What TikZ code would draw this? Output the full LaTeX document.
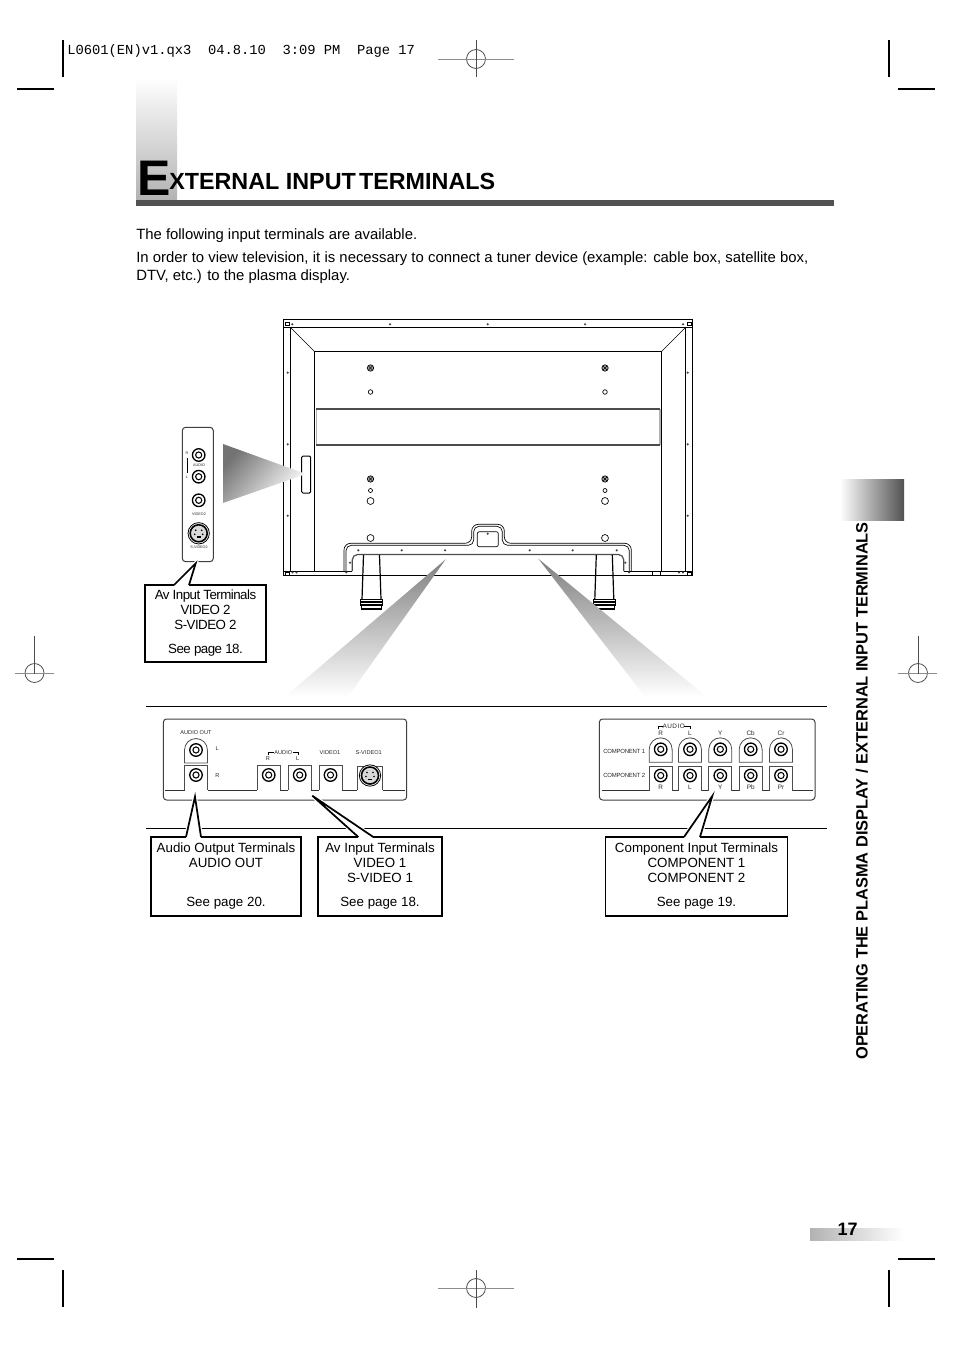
\documentclass[tikz,border=0pt]{standalone}
\usepackage{fontspec}
\setmainfont{Liberation Sans}
\setmonofont{Liberation Mono}
\newfontfamily\tightfont[LetterSpace=-4]{Liberation Sans}
\usetikzlibrary{calc}
\tikzset{
	crop/.style={black, line width=0.8pt},
	regmark/.style={black!70, line width=0.6pt},
	frame/.style={draw=black, line width=0.75pt},
	panel/.style={draw=black!75, line width=0.75pt, rounded corners=2.5pt},
	housing/.style={draw=black!70, line width=0.6pt},
	boxline/.style={draw=black, line width=1.3pt},
	termbox/.style={boxline, align=center, inner sep=0pt, font=\fontsize{10}{11.25}\selectfont},
	tinylabel/.style={inner sep=0pt, text=black!85, font=\fontsize{4.2}{5}\selectfont},
	sidelabel/.style={inner sep=0pt, text=black!85, font=\fontsize{2.8}{3.5}\selectfont},
	jack/.pic={
		\draw[line width=1pt, fill=white] (0,0) circle (4.7pt);
		\draw[line width=0.8pt] (0,0) circle (2.3pt);
	},
	svideo/.pic={
		\draw[line width=0.6pt, fill=white] (0,0) circle (8pt);
		\draw[line width=1.2pt, fill=black!15] (0,0) circle (6.4pt);
		\foreach \a/\b in {-3/-3, 3/-3, -4/1, 4/1} {\fill (\a,\b) circle (0.7pt);}
		\fill (-2,3) rectangle (2,4.5);
	},
	archjack/.pic={
		\draw[housing] (-11.5,13) -- (-11.5,0) arc[start angle=180, end angle=0, radius=8.6pt] -- (11.5,13) -- cycle;
		\pic at (0,0) {jack};
	},
	boxjack/.pic={
		\fill[white] (-11.5,-9.5) rectangle (11.5,17);
		\draw[housing] (-11.5,15) -- (-11.5,-9.5) -- (11.5,-9.5) -- (11.5,15);
		\pic at (0,0) {jack};
	}
}
% halo of a callout tail over the rules, then its visible edges
\newcommand{\tailback}[3]{
	\fill[white] (#1) -- (#2) -- (#3) -- cycle;
	\draw[white, line width=3pt] (#1) -- (#2) -- (#3);
}
\newcommand{\tailfront}[3]{
	\draw[white, line width=2pt] (#1) -- (#3);
	\draw[boxline] (#1) -- (#2) -- (#3);
}
\newcommand{\regcross}[5]{
	\draw[regmark] (#1,#2) circle (7.1pt);
	\draw[regmark, black!45] (#3,#2) -- (#4,#2);
	\draw[regmark] (#1,#5) -- (#1,{#5+37.5});
}

\begin{document}
\begin{tikzpicture}[x=0.75pt, y=-0.75pt]
	\useasboundingbox (0,0) rectangle (954,1351);
	
	% Crop marks in the corners
	\foreach \x/\y in {63/40, 889/40, 63/1270, 889/1270} {
		\draw[crop] (\x,\y) -- (\x,{\y+37});
	}
	\foreach \x/\y in {17/89, 898/89, 17/1259, 898/1259} {
		\draw[crop] (\x,\y) -- ({\x+37},\y);
	}
	\regcross{476}{59}{438}{514}{40}
	\regcross{476}{1288}{438}{514}{1270}
	\regcross{34.5}{673}{15}{54}{636}
	\regcross{918}{673}{898}{937}{636}
	
	\node[anchor=base west, inner sep=0pt, font=\ttfamily\fontsize{10.35}{12}\selectfont] (header) at (67,54.5) {L0601(EN)v1.qx3~~04.8.10~~3:09~PM~~Page~17};
	
	% Title with its gradient band and rule
	\shade[top color=white, bottom color=black!30] (136,77) rectangle (177,200);
	\fill[black!68] (136,200) rectangle (834,206);
	\node[anchor=base west, inner sep=0pt, font=\bfseries\fontsize{37.5}{40}\selectfont] (titlecap) at (137,195.5) {E};
	\node[anchor=base west, inner sep=0pt, font=\bfseries\fontsize{17.5}{20}\selectfont] (title) at (169,190) {XTERNAL INPUT\kern-2.5pt\ TERMINALS};
	
	% Intro text
	\node[anchor=base west, inner sep=0pt, font=\fontsize{11.15}{13.5}\selectfont] (intro) at (136,239.5) {The following input terminals are available.};
	\node[anchor=north west, inner sep=0pt, text width=504pt, align=justify, font=\fontsize{11.15}{13.5}\selectfont] (introtwo) at (136,251.5) {In order to view television, it is necessary to connect a tuner device (example: cable box, satellite box,\linebreak DTV, etc.) to the plasma display.};
	
	% Side tab and vertical chapter text
	\shade[left color=white, right color=black!68] (840,479) rectangle (904,520);
	\node[rotate=90, anchor=base west, inner sep=0pt, font=\bfseries\fontsize{12.3}{14}\selectfont] (chapter) at (867.5,1060) {OPERATING THE PLASMA DISPLAY / EXTERNAL INPUT TERMINALS};
	
	% Page number tab
	\shade[left color=black!30, right color=white] (810,1228) rectangle (904,1240);
	\node[anchor=base, inner sep=0pt, font=\bfseries\fontsize{13.5}{15}\selectfont] (pagenum) at (847.5,1235) {17};
	
	% Back of the display
	\draw[frame] (283.3,320) rectangle (692.7,575.7);
	\draw[frame] (283.3,327.3) -- (692.7,327.3);
	\draw[frame] (290.3,327.3) -- (290.3,571);
	\draw[frame] (685.7,327.3) -- (685.7,571);
	\draw[frame] (283.3,571) -- (352.3,571);
	\draw[frame] (623.7,571) -- (692.7,571);
	\draw[frame] (314.3,571) -- (314.3,351.3) -- (661.7,351.3) -- (661.7,571);
	\draw[line width=0.5pt] (290.3,327.3) -- (314.3,351.3);
	\draw[line width=0.5pt] (685.7,327.3) -- (661.7,351.3);
	\draw[frame] (652.3,571) -- (652.3,575.7);
	\draw[frame] (660.7,571) -- (660.7,575.7);
	% little corner rectangles
	\foreach \x/\y in {285/322, 686.7/322, 285/572, 686.7/572} {
		\draw[line width=0.3pt] (\x,\y) rectangle ({\x+4.3},{\y+3});
	}
	% slot with the long bar
	\draw[gray!60, line width=1.2pt] (316.3,409.3) -- (316.3,445);
	\draw[gray!60, line width=1.2pt] (659.7,409.3) -- (659.7,445);
	\draw[black!70, line width=1.3pt] (316.3,409.3) -- (659.7,409.3);
	\draw[black!70, line width=1.3pt] (316.3,445) -- (659.7,445);
	\draw[frame, rounded corners=1pt] (301.7,456) rectangle (310.7,493);
	
	% Screws on the frame
	\foreach \x/\y in {292.3/324.3, 390/324.3, 487.7/324.3, 585/324.3, 683/324.3,
		287.7/372.7, 287.7/444.3, 287.7/515.7, 687.7/372.7, 687.7/444.3, 687.7/515.7,
		292.5/572.5, 296.5/572.5, 679/572.5, 683/572.5,
		358.3/550.3, 401.7/550.3, 445/550.3, 529.7/550.3, 572.7/550.3, 616.7/550.3,
		350/562.7, 625.3/562.7, 346.3/572.3, 629/572.3, 487.7/533.7} {
		\fill[black!75] (\x,\y) circle (0.9pt);
	}
	% Mounting holes
	\foreach \x in {370.5,605} {
		\foreach \y in {368,479} {
			\draw[line width=0.5pt, fill=black!35] (\x,\y) circle (2.4pt);
			\draw[line width=0.4pt] ({\x-2},{\y-2}) -- ({\x+2},{\y+2});
			\draw[line width=0.4pt] ({\x-2},{\y+2}) -- ({\x+2},{\y-2});
		}
		\draw[line width=0.5pt] (\x,392) circle (1.7pt);
		\draw[line width=0.5pt] (\x,490.5) circle (1.5pt);
		\draw[line width=0.5pt] (\x,501) circle (2.6pt);
		\draw[line width=0.5pt] (\x,538) circle (2.6pt);
	}
	
	% Stand bracket
	\draw[line width=0.5pt, rounded corners=5pt] (344,571) -- (344,543.3) -- (471.7,543.3) -- (471.7,524.3) -- (504.3,524.3) -- (504.3,543.3) -- (631.3,543.3) -- (631.3,571);
	\draw[line width=0.5pt, rounded corners=4pt] (346,571) -- (346,545.3) -- (473.7,545.3) -- (473.7,526.3) -- (502.3,526.3) -- (502.3,545.3) -- (629.3,545.3) -- (629.3,571);
	\draw[black!70, line width=0.9pt, rounded corners=4pt] (352.3,571) -- (352.3,554.5) -- (623.7,554.5) -- (623.7,571);
	\draw[line width=0.5pt, rounded corners=1.5pt] (477.3,531.7) rectangle (498.3,546.7);
	
	% Legs
	\foreach \x in {371.5,604.3} {
		\draw[line width=0.9pt] ({\x-8},555) -- ({\x-9.5},599.3);
		\draw[line width=0.9pt] ({\x+8},555) -- ({\x+9.5},599.3);
		\draw[line width=0.9pt, fill=white] ({\x-11},599.3) rectangle ({\x+11},605);
		\draw[line width=0.9pt] ({\x-11},602) -- ({\x+11},602);
		\draw[line width=0.9pt] ({\x-10},605) -- ({\x-10},609) -- ({\x+10},609) -- ({\x+10},605);
	}
	
	% Gray beams from the display to the close-ups
	\shade[top color=black!55, bottom color=white, shading angle=50] (223,444) -- (306,474) -- (223,503) -- cycle;
	\shade[top color=black!50, bottom color=white] (445.7,559.3) -- (285,696.7) -- (348,696.7) -- cycle;
	\shade[top color=black!50, bottom color=white] (538.3,558.7) -- (706.7,696.7) -- (645,696.7) -- cycle;
	
	% Side close-up
	\draw[panel] (182.3,427.3) rectangle (213.3,561.7);
	\foreach \y in {455,476.7,500.3} {
		\pic at (198.7,\y) {jack};
	}
	\pic at (198.7,533.3) {svideo};
	\draw[line width=0.4pt] (187,458) -- (187,473);
	\node[sidelabel] (sider) at (187,453) {R};
	\node[sidelabel] (sidel) at (187,477.5) {L};
	\node[sidelabel] (sideaudio) at (199,465) {AUDIO};
	\node[sidelabel] (sidevideo) at (199,514) {VIDEO2};
	\node[sidelabel] (sidesvideo) at (199,547) {S-VIDEO2};
	
	% Rules around the lower close-ups
	\draw[line width=0.75pt] (146,706) -- (827,706);
	\draw[line width=0.75pt] (146,828) -- (827,828);
	
	% Lower left close-up
	\draw[panel] (163.3,719) rectangle (406.7,800);
	\draw[black!80, line width=0.75pt] (165,790) -- (405,790);
	\pic at (196,750) {archjack};
	\foreach \x in {196,268.7,299.7,330.5} {
		\pic at (\x,775) {boxjack};
	}
	\fill[white] (357.3,766) rectangle (382.7,792);
	\draw[housing] (357.3,790) -- (357.3,766) -- (382.7,766) -- (382.7,790);
	\pic at (370,775.5) {svideo};
	\node[tinylabel] (audioout) at (196,732.7) {AUDIO OUT};
	\node[tinylabel] (outl) at (217.3,749) {L};
	\node[tinylabel] (outr) at (217.3,776) {R};
	\node[tinylabel] (audioa) at (283.3,752.3) {AUDIO};
	\draw[line width=0.5pt] (268.3,755) -- (268.3,752.7) -- (273.5,752.7);
	\draw[line width=0.5pt] (292.7,752.7) -- (298.3,752.7) -- (298.3,755);
	\node[tinylabel] (audiorr) at (268,759) {R};
	\node[tinylabel] (audioll) at (297.7,759) {L};
	\node[tinylabel] (videoa) at (330,752.3) {VIDEO1};
	\node[tinylabel] (svideoa) at (368.7,752.3) {S-VIDEO1};
	
	% Lower right close-up
	\draw[panel] (599.3,719) rectangle (815,800);
	\draw[black!80, line width=0.75pt] (602,790) -- (813,790);
	\foreach \x/\one/\two in {660.7/R/R, 690/L/L, 720.3/Y/Y, 750.7/Cb/Pb, 781/Cr/Pr} {
		\pic at (\x,749.3) {archjack};
		\pic at (\x,775.5) {boxjack};
		\node[tinylabel, font=\fontsize{4.8}{6}\selectfont] (upper\one) at (\x,733.5) {\one};
		\node[tinylabel, fill=white, inner sep=0.2pt, font=\fontsize{4.8}{6}\selectfont] (lower\two) at (\x,787.3) {\two};
	}
	\node[tinylabel, font=\fontsize{4.8}{6}\selectfont\addfontfeature{LetterSpace=8}] (compaudio) at (673.7,726) {AUDIO};
	\draw[line width=0.5pt] (658.3,728.5) -- (658.3,726) -- (663.3,726);
	\draw[line width=0.5pt] (684.3,726) -- (690,726) -- (690,728.5);
	\node[tinylabel, font=\tightfont\fontsize{4.5}{5}\selectfont] (compone) at (624.3,751.3) {COMPONENT 1};
	\node[tinylabel, font=\tightfont\fontsize{4.5}{5}\selectfont] (comptwo) at (624.3,775) {COMPONENT 2};
	
	% Callouts with their tails
	\coordinate (audiotaila) at (186,837);
	\coordinate (audiotip) at (195,796.7);
	\coordinate (audiotailb) at (201,837);
	\coordinate (videotaila) at (358.3,837);
	\coordinate (videotip) at (312.3,795.7);
	\coordinate (videotailb) at (373.3,837);
	\coordinate (comptaila) at (684,837);
	\coordinate (comptip) at (712.3,796);
	\coordinate (comptailb) at (700,837);
	\coordinate (sidetaila) at (174,585);
	\coordinate (sidetip) at (195.7,563.3);
	\coordinate (sidetailb) at (189,585);
	\tailback{audiotaila}{audiotip}{audiotailb}
	\tailback{videotaila}{videotip}{videotailb}
	\tailback{comptaila}{comptip}{comptailb}
	\tailback{sidetaila}{sidetip}{sidetailb}
	
	\node[termbox, minimum width=90.75pt, minimum height=57.75pt] (sidebox) at (205.5,623.5) {{\tightfont Av Input Terminals}\\{\tightfont VIDEO 2}\\{\tightfont S-VIDEO 2}\\[6.75pt]{\tightfont See page 18.}\rule[-2.5pt]{0pt}{0pt}};
	\node[termbox, minimum width=112.5pt, minimum height=59.25pt] (audiobox) at (226,876.5) {Audio Output Terminals\\AUDIO OUT\\[18pt]See page 20.\rule[-2.5pt]{0pt}{0pt}};
	\node[termbox, minimum width=93pt, minimum height=59.25pt] (videobox) at (380,876.5) {Av Input Terminals\\VIDEO 1\\S-VIDEO 1\\[6.75pt]See page 18.\rule[-2.5pt]{0pt}{0pt}};
	\node[termbox, minimum width=136.5pt, minimum height=59.25pt] (compbox) at (696.5,876.5) {Component Input Terminals\\COMPONENT 1\\COMPONENT 2\\[6.75pt]See page 19.\rule[-2.5pt]{0pt}{0pt}};
	
	\tailfront{audiotaila}{audiotip}{audiotailb}
	\tailfront{videotaila}{videotip}{videotailb}
	\tailfront{comptaila}{comptip}{comptailb}
	\tailfront{sidetaila}{sidetip}{sidetailb}
\end{tikzpicture}
\end{document}
